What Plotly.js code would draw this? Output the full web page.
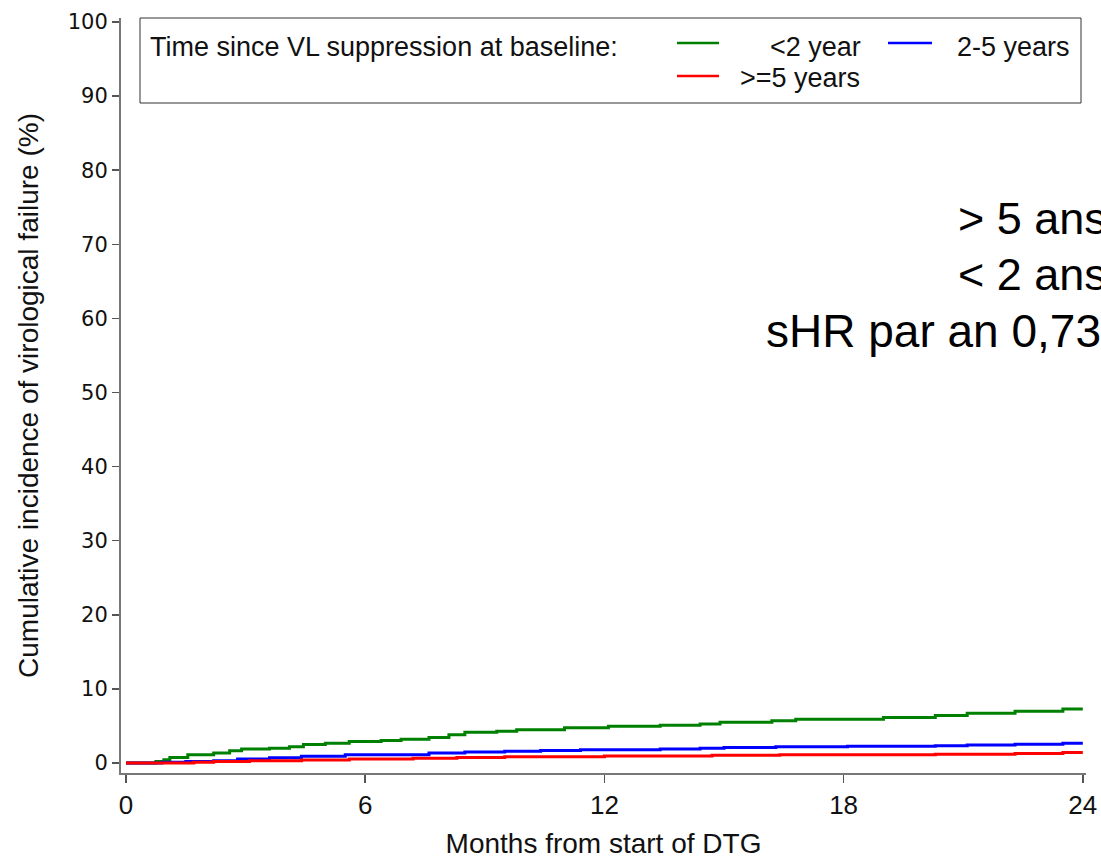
<!DOCTYPE html>
<html>
<head>
<meta charset="utf-8">
<script src="https://cdn.plot.ly/plotly-3.0.1.min.js"></script>
<style>html,body{margin:0;padding:0;background:#fff;}#chart{width:1101px;height:859px;}</style>
</head>
<body>
<div id="chart"></div>
<script>
// ---- data ----
const seriesNames = ["<2 year", "2-5 years", ">=5 years"];

const greenMonths = [0, 0.75, 0.95, 1.1, 1.55, 2.2, 2.6, 2.9, 3.6, 4.1, 4.45, 5.0, 5.6, 6.4, 6.9, 7.6, 8.1, 8.5, 9.3, 9.8, 11.0, 12.1, 13.4, 14.4, 14.9, 16.2, 16.8, 19.0, 20.3, 21.1, 22.3, 23.5, 24];
const greenCum    = [0, 0.2, 0.45, 0.75, 1.1, 1.35, 1.65, 1.9, 2.0, 2.2, 2.5, 2.65, 2.9, 3.05, 3.2, 3.45, 3.8, 4.15, 4.3, 4.5, 4.75, 4.95, 5.1, 5.25, 5.5, 5.7, 5.9, 6.15, 6.4, 6.7, 7.0, 7.3, 7.3];

const blueMonths = [0, 0.9, 1.5, 2.2, 2.8, 3.6, 4.4, 5.5, 7.6, 8.5, 9.5, 10.4, 11.4, 13.4, 14.4, 15.0, 16.3, 18.1, 20.3, 21.1, 22.3, 23.5, 24];
const blueCum    = [0, 0.1, 0.2, 0.3, 0.55, 0.72, 0.92, 1.12, 1.35, 1.5, 1.6, 1.7, 1.78, 1.9, 2.0, 2.1, 2.2, 2.25, 2.33, 2.42, 2.52, 2.68, 2.68];

const redMonths = [0, 1.7, 2.2, 3.1, 4.4, 5.6, 7.2, 8.3, 9.5, 12.0, 14.7, 16.4, 20.3, 22.3, 23.5, 24];
const redCum    = [0, 0.1, 0.2, 0.3, 0.4, 0.55, 0.63, 0.75, 0.85, 0.95, 1.05, 1.12, 1.18, 1.28, 1.4, 1.4];

const xTicks = [0, 6, 12, 18, 24];
const yTicks = [0, 10, 20, 30, 40, 50, 60, 70, 80, 90, 100];

const legendHeading = "Time since VL suppression at baseline:";
const noteLines = ["> 5 ans", "< 2 ans", "sHR par an 0,73"];

// ---- geometry helpers (pixel -> paper) ----
const W = 1101, H = 859;
const M = {l: 121, r: 15, t: 18, b: 86};
const PW = W - M.l - M.r, PH = H - M.t - M.b;
const px = x => (x - M.l) / PW;
const py = y => (H - M.b - y) / PH;

const colors = {green: "#008000", blue: "#0000ff", red: "#ff0000"};
const ARIAL = "Liberation Sans, Arial, sans-serif";

const traces = [
  {x: greenMonths, y: greenCum, name: seriesNames[0], color: colors.green},
  {x: blueMonths,  y: blueCum,  name: seriesNames[1], color: colors.blue},
  {x: redMonths,   y: redCum,   name: seriesNames[2], color: colors.red}
].map(s => ({
  type: "scatter", mode: "lines", x: s.x, y: s.y, name: s.name,
  line: {shape: "hv", color: s.color, width: 3},
  showlegend: false, hoverinfo: "skip"
}));

const legFont = {family: ARIAL, size: 27, color: "#111"};
const noteFont = {family: ARIAL, size: 45, color: "#000"};

const shapes = [
  {type: "rect", xref: "paper", yref: "paper", x0: px(140), x1: px(1081), y0: py(103), y1: py(18),
   line: {color: "#333", width: 1}, fillcolor: "rgba(0,0,0,0)"},
  {type: "line", xref: "paper", yref: "paper", x0: px(677), x1: px(719), y0: py(43), y1: py(43), line: {color: colors.green, width: 2.5}},
  {type: "line", xref: "paper", yref: "paper", x0: px(888), x1: px(932), y0: py(43), y1: py(43), line: {color: colors.blue, width: 2.5}},
  {type: "line", xref: "paper", yref: "paper", x0: px(677), x1: px(719), y0: py(76), y1: py(76), line: {color: colors.red, width: 2.5}}
];

const annotations = [
  {text: legendHeading, x: px(149), y: py(47), xanchor: "left", yanchor: "middle", font: legFont},
  {text: seriesNames[0], x: px(862), y: py(47), xanchor: "right", yanchor: "middle", font: legFont},
  {text: seriesNames[1], x: px(956), y: py(47), xanchor: "left", yanchor: "middle", font: legFont},
  {text: seriesNames[2], x: px(861), y: py(78), xanchor: "right", yanchor: "middle", font: legFont},
  {text: noteLines[0], x: px(957), y: py(218), xanchor: "left", yanchor: "middle", font: noteFont},
  {text: noteLines[1], x: px(957), y: py(274), xanchor: "left", yanchor: "middle", font: noteFont},
  {text: noteLines[2], x: px(765), y: py(331), xanchor: "left", yanchor: "middle", font: Object.assign({}, noteFont, {size: 46})}
].map(a => Object.assign({xref: "paper", yref: "paper", showarrow: false, borderpad: 0}, a));

const layout = {
  width: W, height: H,
  margin: M,
  paper_bgcolor: "#fff", plot_bgcolor: "#fff",
  showlegend: false,
  xaxis: {
    range: [-0.125, 24.08], tickvals: xTicks, ticktext: xTicks.map(String),
    showgrid: false, zeroline: false, showline: true, linecolor: "#777", linewidth: 2,
    ticks: "outside", ticklen: 8, tickwidth: 1.5, tickcolor: "#555",
    tickfont: {family: ARIAL, size: 26, color: "#111"},
    title: {text: "Months from start of DTG", font: {family: ARIAL, size: 28, color: "#111"}, standoff: 16},
    fixedrange: true
  },
  yaxis: {
    range: [-1.35, 100.54], tickvals: yTicks, ticktext: yTicks.map(String),
    showgrid: false, zeroline: false, showline: true, linecolor: "#777", linewidth: 2,
    ticks: "outside", ticklen: 7, tickwidth: 1.5, tickcolor: "#555",
    tickfont: {family: "DejaVu Sans, Verdana, sans-serif", size: 21, color: "#111"},
    title: {text: "Cumulative incidence of virological failure (%)", font: {family: ARIAL, size: 28, color: "#111"}, standoff: 21},
    fixedrange: true
  },
  shapes: shapes,
  annotations: annotations
};

Plotly.newPlot("chart", traces, layout, {displayModeBar: false, staticPlot: true});
</script>
</body>
</html>
